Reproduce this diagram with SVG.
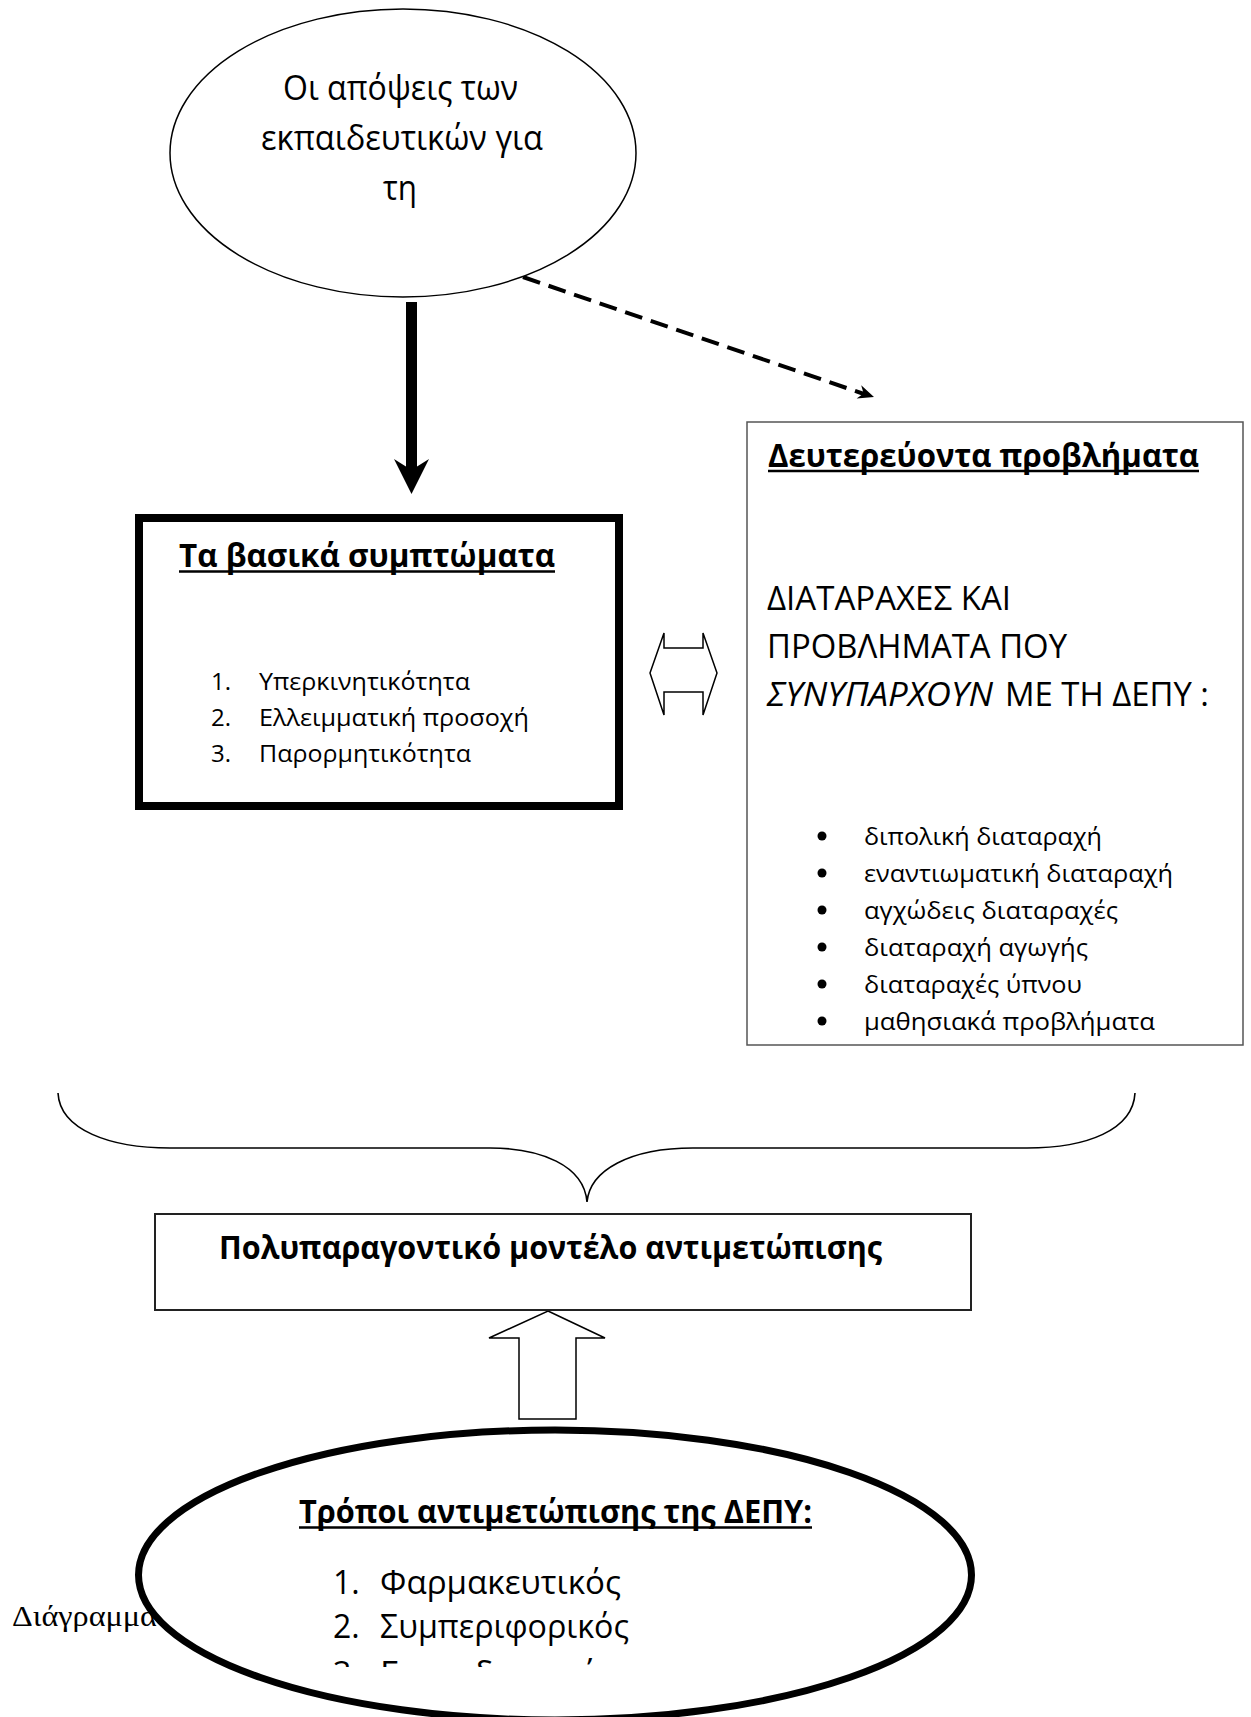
<svg xmlns="http://www.w3.org/2000/svg" width="1251" height="1717" viewBox="0 0 1251 1717">
<style>
.t{font-family:"Open Sans","Noto Sans","DejaVu Sans",sans-serif;fill:#000}
.b{font-weight:bold}
.i{font-style:italic}
.s32{font-size:32px}
.s24{font-size:24px}
.ln{stroke:#000;fill:none}
.ul{stroke:#000;stroke-width:2.4}
</style>
<defs>
<clipPath id="clip3"><rect x="300" y="1600" width="400" height="67"/></clipPath>
</defs>
<rect width="1251" height="1717" fill="#fff"/>

<g id="connectors">
  <rect x="406" y="302" width="11" height="170" fill="#000"/>
  <polygon points="411.5,494 394,459 411.5,470 429,459" fill="#000"/>
  <line x1="523" y1="277" x2="864" y2="394" stroke="#000" stroke-width="4" stroke-dasharray="18 9"/>
  <polygon points="874,397 856.6,398.4 863.6,393.5 861.2,385.2" fill="#000"/>
  <polygon points="650,673 664,633 664,648 703,648 703,633 717,673 703,715 703,692 664,692 664,715" fill="#fff" stroke="#000" stroke-width="1.5"/>
  <path class="ln" stroke-width="1.6" d="M58,1093 C60,1130 110,1148 170,1148 L490,1148 C540,1148 584,1165 587,1202 C590,1170 630,1148 693,1148 L1027,1148 C1087,1148 1133,1130 1135,1093"/>
  <polygon points="548,1311 605,1338 576,1338 576,1419 519,1419 519,1338 489,1338" fill="#fff" stroke="#000" stroke-width="1.5"/>
</g>

<g id="node-views">
  <ellipse cx="403" cy="153" rx="233" ry="144" fill="#fff" stroke="#000" stroke-width="1.5"/>
  <text class="t" font-size="34" x="283" y="100" textLength="235" lengthAdjust="spacingAndGlyphs">Οι απόψεις των</text>
  <text class="t" font-size="34" x="261" y="150" textLength="282" lengthAdjust="spacingAndGlyphs">εκπαιδευτικών για</text>
  <text class="t" font-size="34" x="383" y="200" textLength="34" lengthAdjust="spacingAndGlyphs">τη</text>
</g>

<g id="node-symptoms">
  <rect x="139" y="518" width="480" height="288" fill="#fff" stroke="#000" stroke-width="8"/>
  <text class="t b s32" x="179" y="567" textLength="376" lengthAdjust="spacingAndGlyphs">Τα βασικά συμπτώματα</text>
  <line class="ul" x1="179" y1="571.5" x2="555" y2="571.5"/>
  <text class="t s24" x="211" y="690">1.</text>
  <text class="t s24" x="259" y="690" textLength="211" lengthAdjust="spacingAndGlyphs">Υπερκινητικότητα</text>
  <text class="t s24" x="211" y="726">2.</text>
  <text class="t s24" x="259" y="726" textLength="270" lengthAdjust="spacingAndGlyphs">Ελλειμματική προσοχή</text>
  <text class="t s24" x="211" y="762">3.</text>
  <text class="t s24" x="259" y="762" textLength="212" lengthAdjust="spacingAndGlyphs">Παρορμητικότητα</text>
</g>

<g id="node-secondary">
  <rect x="747" y="422" width="496" height="623" fill="#fff" stroke="#555" stroke-width="1.5"/>
  <text class="t b s32" x="768" y="467" textLength="431" lengthAdjust="spacingAndGlyphs">Δευτερεύοντα προβλήματα</text>
  <line class="ul" x1="768" y1="471" x2="1199" y2="471"/>
  <text class="t s32" x="767" y="610" textLength="244" lengthAdjust="spacingAndGlyphs">ΔΙΑΤΑΡΑΧΕΣ ΚΑΙ</text>
  <text class="t s32" x="767" y="658" textLength="300" lengthAdjust="spacingAndGlyphs">ΠΡΟΒΛΗΜΑΤΑ ΠΟΥ</text>
  <text class="t s32 i" x="767" y="706" textLength="226" lengthAdjust="spacingAndGlyphs">ΣΥΝΥΠΑΡΧΟΥΝ</text>
  <text class="t s32" x="1005" y="706" textLength="204" lengthAdjust="spacingAndGlyphs">ΜΕ ΤΗ ΔΕΠΥ :</text>
  <g fill="#000">
    <circle cx="822" cy="836" r="4.5"/>
    <circle cx="822" cy="873" r="4.5"/>
    <circle cx="822" cy="910" r="4.5"/>
    <circle cx="822" cy="947" r="4.5"/>
    <circle cx="822" cy="984" r="4.5"/>
    <circle cx="822" cy="1021" r="4.5"/>
  </g>
  <text class="t s24" x="864" y="845" textLength="238" lengthAdjust="spacingAndGlyphs">διπολική διαταραχή</text>
  <text class="t s24" x="864" y="882" textLength="309" lengthAdjust="spacingAndGlyphs">εναντιωματική διαταραχή</text>
  <text class="t s24" x="864" y="919" textLength="254" lengthAdjust="spacingAndGlyphs">αγχώδεις διαταραχές</text>
  <text class="t s24" x="864" y="956" textLength="224" lengthAdjust="spacingAndGlyphs">διαταραχή αγωγής</text>
  <text class="t s24" x="864" y="993" textLength="218" lengthAdjust="spacingAndGlyphs">διαταραχές ύπνου</text>
  <text class="t s24" x="864" y="1030" textLength="291" lengthAdjust="spacingAndGlyphs">μαθησιακά προβλήματα</text>
</g>

<g id="node-model">
  <rect x="155" y="1214" width="816" height="96" fill="#fff" stroke="#222" stroke-width="2"/>
  <text class="t b" font-size="33" x="219" y="1259" textLength="663" lengthAdjust="spacingAndGlyphs">Πολυπαραγοντικό μοντέλο αντιμετώπισης</text>
</g>

<g id="caption">
  <text font-family="'Liberation Serif','Times New Roman',serif" fill="#000" font-size="29" x="12" y="1626" textLength="145" lengthAdjust="spacingAndGlyphs">Διάγραμμα</text>
</g>

<g id="node-treatment">
  <ellipse cx="555" cy="1575" rx="416.5" ry="145" fill="#fff" stroke="#000" stroke-width="7"/>
  <text class="t b" font-size="33" x="299" y="1523" textLength="513" lengthAdjust="spacingAndGlyphs">Τρόποι αντιμετώπισης της ΔΕΠΥ:</text>
  <line class="ul" x1="299" y1="1527.5" x2="812" y2="1527.5"/>
  <text class="t" font-size="32" x="333" y="1594">1.</text>
  <text class="t" font-size="32" x="380" y="1594" textLength="241" lengthAdjust="spacingAndGlyphs">Φαρμακευτικός</text>
  <text class="t" font-size="32" x="333" y="1638">2.</text>
  <text class="t" font-size="32" x="380" y="1638" textLength="249" lengthAdjust="spacingAndGlyphs">Συμπεριφορικός</text>
  <g clip-path="url(#clip3)">
    <text class="t" font-size="32" x="333" y="1685">3.</text>
    <text class="t" font-size="32" x="380" y="1685" textLength="236" lengthAdjust="spacingAndGlyphs">Εκπαιδευτικός</text>
  </g>
</g>
</svg>
